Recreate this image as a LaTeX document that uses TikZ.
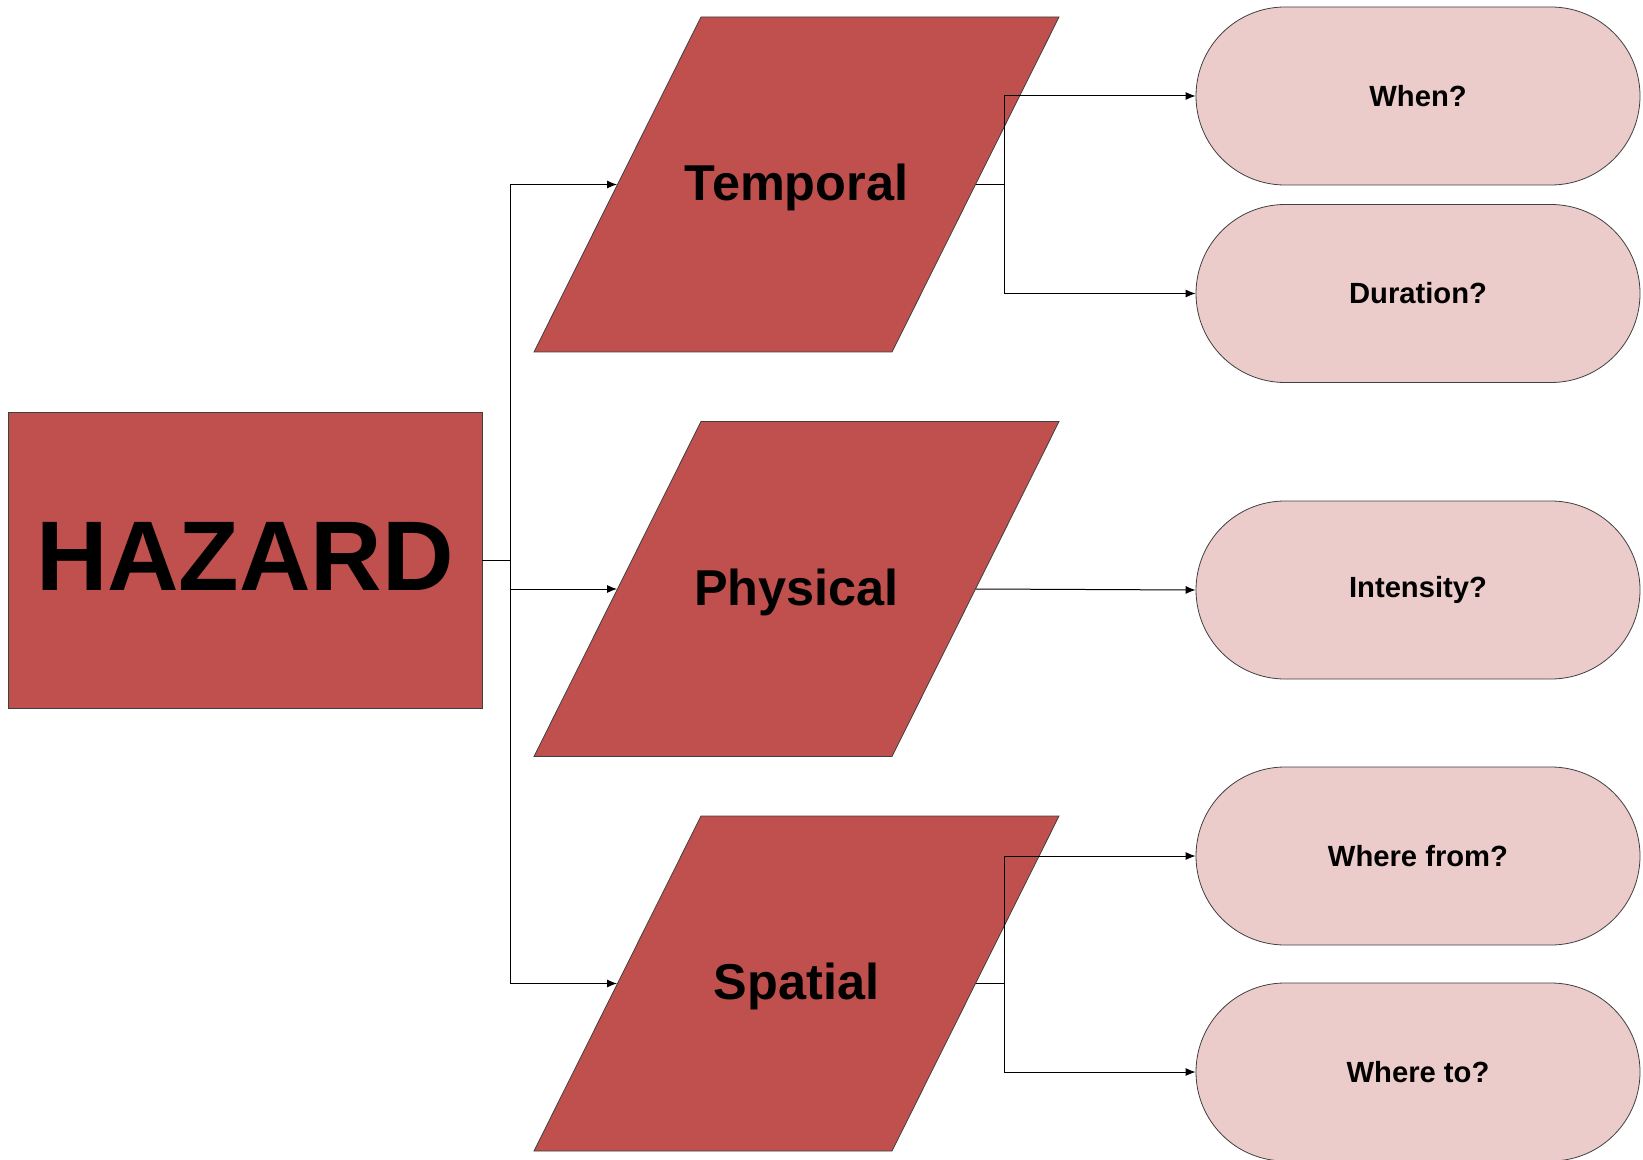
\documentclass[tikz,border=0pt]{standalone}
\usepackage{fontspec}
\setmainfont{Liberation Sans}
\usetikzlibrary{shapes.geometric,shapes.misc,arrows.meta}
\definecolor{hazardred}{RGB}{192,80,77}
\definecolor{askpink}{RGB}{236,204,203}
\tikzset{
  hazbox/.style={draw=black!75, fill=hazardred, minimum width=237pt, minimum height=148pt,
    inner sep=0pt, text depth=4pt, font=\bfseries\fontsize{49.5}{49.5}\selectfont},
  aspect/.style={trapezium, trapezium left angle=63.5, trapezium right angle=116.5,
    draw=black!75, fill=hazardred, inner xsep=47.75pt, inner ysep=0pt,
    text height=91.75pt, text depth=75.75pt,
    font=\bfseries\fontsize{25.2}{25.2}\selectfont},
  question/.style={rounded rectangle, draw=black!75, fill=askpink, minimum width=222pt,
    minimum height=89pt, inner sep=0pt, font=\bfseries\fontsize{14.6}{14.6}\selectfont},
  link/.style={-{Latex[length=5pt,width=4pt]}, line width=0.5pt}
}
\begin{document}
\begin{tikzpicture}[x=0.5pt,y=-0.5pt]
        \useasboundingbox (0,0) rectangle (1643,1160);
        %% Hazard and its three aspects
        \node[hazbox] (haz) at (245,560) {HAZARD};
        \node[aspect] (temp) at (796.5,184.5) {\clap{Temporal}};
        \node[aspect] (phys) at (796.5,589) {\clap{Physical}};
        \node[aspect] (spat) at (796.5,983.5) {\clap{Spatial}};
        %% Questions
        \node[question] (when) at (1418,96) {When?};
        \node[question] (dur) at (1418,293.5) {Duration?};
        \node[question] (inten) at (1418,590) {Intensity?};
        \node[question] (from) at (1418,856) {Where from?};
        \node[question] (to) at (1418,1072) {Where to?};
        %% Branch points
        \coordinate (hsplit) at (510,560);
        \coordinate (tsplit) at (1004,184.5);
        \coordinate (ssplit) at (1004,983.5);
        %% Connectors
        \draw[line width=0.5pt] (haz.east) -- (hsplit);
        \foreach \a in {temp,phys,spat} {
            \draw[link] (hsplit) |- (\a.left side);
        }
        \draw[line width=0.5pt] (temp.right side) -- (tsplit);
        \draw[link] (tsplit) |- (when.west);
        \draw[link] (tsplit) |- (dur.west);
        \draw[link] (phys.right side) -- (inten.west);
        \draw[line width=0.5pt] (spat.right side) -- (ssplit);
        \draw[link] (ssplit) |- (from.west);
        \draw[link] (ssplit) |- (to.west);
    \end{tikzpicture}
\end{document}
